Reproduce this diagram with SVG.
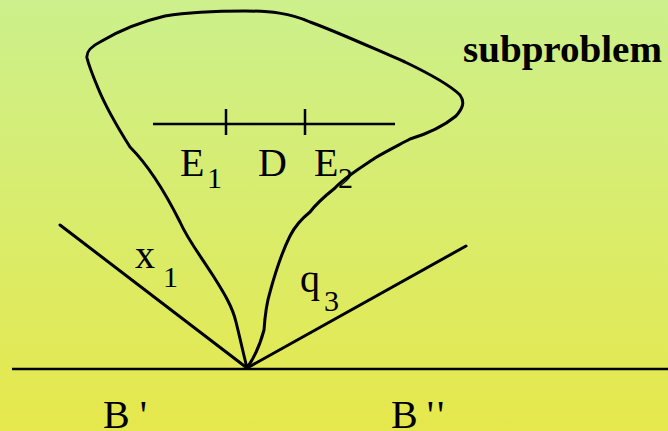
<svg xmlns="http://www.w3.org/2000/svg" width="668" height="431" viewBox="0 0 668 431">
<defs>
<linearGradient id="bg" x1="0" y1="0" x2="0" y2="1">
<stop offset="0" stop-color="#ccf08c"/>
<stop offset="1" stop-color="#e6e84c"/>
</linearGradient>
<style>
.ln{fill:none;stroke:#000;stroke-width:3;stroke-linecap:round;stroke-linejoin:round}
.thin{fill:none;stroke:#000;stroke-width:2.5}
.t{font-family:"Liberation Serif","Times New Roman",serif;font-size:40px;fill:#000}
.s{font-family:"Liberation Serif","Times New Roman",serif;font-size:30px;fill:#000}
.b{font-family:"Liberation Serif","Times New Roman",serif;font-size:38px;font-weight:bold;fill:#000}
</style>
</defs>
<rect width="668" height="431" fill="url(#bg)"/>
<g id="connectors">
<line class="thin" x1="12" y1="369" x2="668" y2="369"/>
<line class="ln" x1="60" y1="225" x2="247" y2="368"/>
<line class="ln" x1="247" y1="368" x2="466" y2="246"/>
</g>
<g id="subproblem">
<path class="ln" d="M247,368 C243,352 240,338 236,322 C232,305 222,290 212,274 C200,255 188,240 180,222 C165,192 148,165 130,147 C118,128 105,105 98,88 C93,76 89,66 87,58 C86,52 92,46 100,42 C115,33 135,23 165,16 C190,12 215,11 245,11 C270,11 290,13 310,22 C340,33 370,47 405,62 C430,74 450,85 460,95 C465,102 463,108 456,116 C445,125 430,133 410,139 C395,147 385,152 375,158 C362,167 345,177 335,188 C325,196 316,204 310,212 C300,220 294,228 290,236 C282,252 276,270 270,292 C266,305 265,315 264,330 C260,345 254,358 247,368 Z"/>
<text class="b" x="463" y="62" textLength="199" lengthAdjust="spacingAndGlyphs">subproblem</text>
</g>
<g id="segment">
<line class="thin" x1="153" y1="124" x2="395" y2="124"/>
<line class="thin" x1="226" y1="109" x2="226" y2="135"/>
<line class="thin" x1="305" y1="109" x2="305" y2="135"/>
<text class="t" x="180" y="176">E</text><text class="s" x="207" y="188">1</text>
<text class="t" x="258" y="176">D</text>
<text class="t" x="314" y="176">E</text><text class="s" x="338" y="188">2</text>
</g>
<g id="labels">
<text class="t" x="135" y="268">x</text><text class="s" x="163" y="287">1</text>
<text class="t" x="300" y="292">q</text><text class="s" x="324" y="311">3</text>
<text class="t" x="103" y="428">B<tspan dx="10">'</tspan></text>
<text class="t" x="391" y="428" letter-spacing="3">B<tspan dx="6">''</tspan></text>
</g>
</svg>
